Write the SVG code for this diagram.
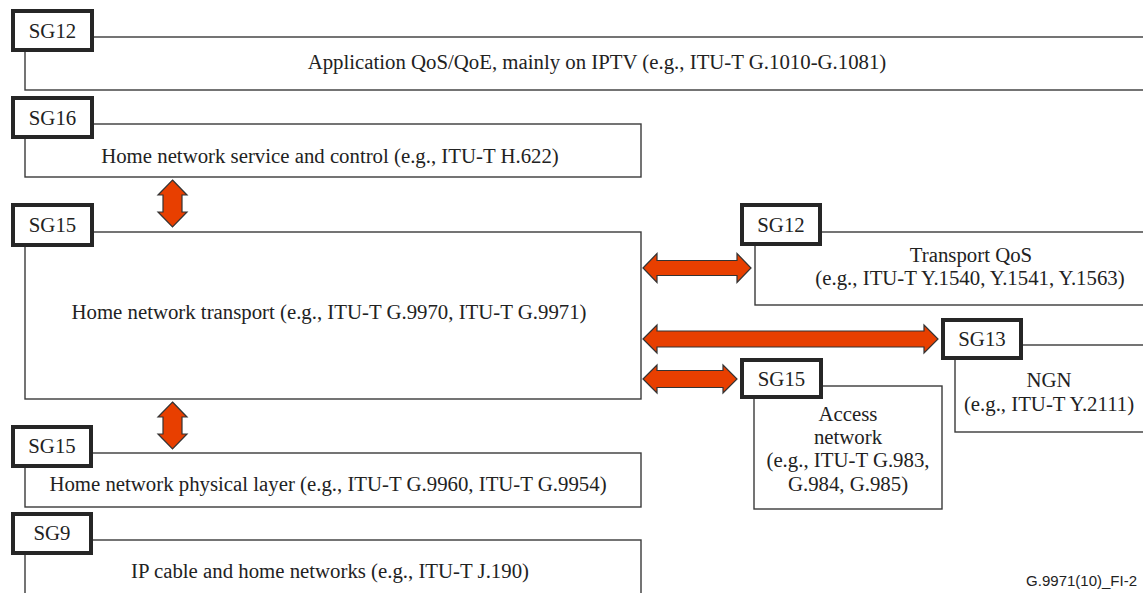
<svg xmlns="http://www.w3.org/2000/svg" width="1143" height="593" viewBox="0 0 1143 593">
<style>
.box{fill:#fff;stroke:#3a3a3a;stroke-width:1.4}
.lbl{fill:#fff;stroke:#262626;stroke-width:4}
.t{font-family:"Liberation Serif","Times New Roman",serif;font-size:20.8px;fill:#222;text-anchor:middle}
.arr{fill:#E83F00;stroke:#333;stroke-width:1.2;stroke-linejoin:miter}
.foot{font-family:"Liberation Sans",Arial,sans-serif;font-size:15px;fill:#222;text-anchor:end}
</style>
<g id="sg12-app">
<rect class="box" x="25" y="37" width="1130" height="53"/>
<rect class="lbl" x="13" y="11" width="79" height="39"/>
<text class="t" x="52.5" y="38">SG12</text>
<text class="t" x="597" y="69">Application QoS/QoE, mainly on IPTV (e.g., ITU-T G.1010-G.1081)</text>
</g>
<g id="sg16-home-service">
<rect class="box" x="25" y="124" width="616" height="53"/>
<rect class="lbl" x="13" y="98" width="79" height="39"/>
<text class="t" x="52.5" y="125">SG16</text>
<text class="t" x="330" y="163">Home network service and control (e.g., ITU-T H.622)</text>
</g>
<g id="sg15-home-transport">
<rect class="box" x="25" y="232" width="616" height="167"/>
<rect class="lbl" x="13" y="205" width="79" height="40"/>
<text class="t" x="52.5" y="232">SG15</text>
<text class="t" x="329" y="319">Home network transport (e.g., ITU-T G.9970, ITU-T G.9971)</text>
</g>
<g id="sg15-home-physical">
<rect class="box" x="25" y="453" width="616" height="54"/>
<rect class="lbl" x="13" y="427" width="78" height="39"/>
<text class="t" x="52" y="453">SG15</text>
<text class="t" x="328" y="491">Home network physical layer (e.g., ITU-T G.9960, ITU-T G.9954)</text>
</g>
<g id="sg9-ip-cable">
<rect class="box" x="25" y="540" width="616" height="70"/>
<rect class="lbl" x="13" y="514" width="78" height="39"/>
<text class="t" x="52" y="540">SG9</text>
<text class="t" x="330" y="578">IP cable and home networks (e.g., ITU-T J.190)</text>
</g>
<g id="sg12-transport-qos">
<rect class="box" x="755" y="232" width="400" height="73"/>
<rect class="lbl" x="742" y="205" width="78" height="39"/>
<text class="t" x="781" y="232">SG12</text>
<text class="t" x="971" y="262">Transport QoS</text>
<text class="t" x="970" y="285">(e.g., ITU-T Y.1540, Y.1541, Y.1563)</text>
</g>
<g id="sg13-ngn">
<rect class="box" x="955" y="345" width="200" height="87"/>
<rect class="lbl" x="943" y="320" width="78" height="38"/>
<text class="t" x="982" y="346">SG13</text>
<text class="t" x="1049" y="387">NGN</text>
<text class="t" x="1049" y="411">(e.g., ITU-T Y.2111)</text>
</g>
<g id="sg15-access">
<rect class="box" x="754" y="386" width="188" height="123"/>
<rect class="lbl" x="742" y="360" width="79" height="37"/>
<text class="t" x="781.5" y="386">SG15</text>
<text class="t" x="848" y="421">Access</text>
<text class="t" x="848" y="444">network</text>
<text class="t" x="848" y="467">(e.g., ITU-T G.983,</text>
<text class="t" x="848" y="491">G.984, G.985)</text>
</g>
<g id="connectors">
<polygon class="arr" points="172.5,180 187,195 182,195 182,212 187,212 172.5,227 158,212 163,212 163,195 158,195"/>
<polygon class="arr" points="172.5,402 187,417 182,417 182,434 187,434 172.5,449 158,434 163,434 163,417 158,417"/>
<polygon class="arr" points="643,268 657,253.5 657,260.5 737,260.5 737,253.5 751,268 737,282.5 737,275.5 657,275.5 657,282.5"/>
<polygon class="arr" points="643,339 657,325 657,331 924,331 924,325 938,339 924,353 924,347 657,347 657,353"/>
<polygon class="arr" points="643,379 657,365 657,370.5 723,370.5 723,365 737,379 723,393 723,387.5 657,387.5 657,393"/>
</g>
<text class="foot" x="1137" y="586">G.9971(10)_FI-2</text>
</svg>
